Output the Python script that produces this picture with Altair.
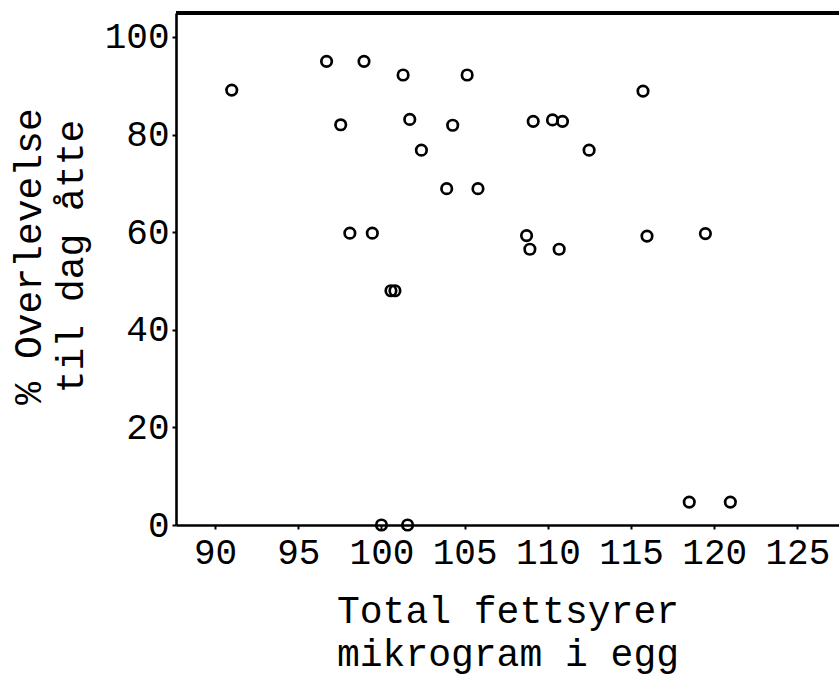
import altair as alt
import pandas as pd

# Total fatty acids per egg (micrograms) and survival to day eight (%)
fettsyrer = [91.0, 96.7, 97.55, 98.1, 98.95, 99.45, 100.57, 100.81, 100.0,
             101.3, 101.57, 101.7, 102.4, 103.92, 104.28, 105.15, 105.8,
             108.72, 108.92, 109.12, 110.28, 110.68, 110.88, 112.48,
             115.72, 115.96, 118.5, 119.47, 120.97]
overlevelse = [89.1, 95.0, 82.0, 59.8, 95.0, 59.8, 48.0, 48.0, 0.0,
               92.2, 0.0, 83.1, 76.8, 68.9, 81.9, 92.2, 68.9,
               59.3, 56.5, 82.7, 83.0, 56.5, 82.7, 76.8,
               88.9, 59.2, 4.7, 59.7, 4.7]

x_ticks = [90, 95, 100, 105, 110, 115, 120, 125]
y_ticks = [0, 20, 40, 60, 80, 100]

df = pd.DataFrame({"fett": fettsyrer, "overlevelse": overlevelse})

FONT = "Liberation Mono"
W, H = 663, 512

points = alt.Chart(df).mark_point(
    shape="circle", filled=False, color="black", size=110, strokeWidth=2.7, opacity=1
).encode(
    x=alt.X(
        "fett:Q",
        scale=alt.Scale(domain=[87.65, 127.5], nice=False, zero=False),
        axis=alt.Axis(
            values=x_ticks,
            title=["Total fettsyrer", "mikrogram i egg"],
            titleFontSize=38,
            titlePadding=22,
            titleLineHeight=43,
            labelFontSize=36,
            labelPadding=6,
        ),
    ),
    y=alt.Y(
        "overlevelse:Q",
        scale=alt.Scale(domain=[0, 104.9], nice=False),
        axis=alt.Axis(
            values=y_ticks,
            title=["% Overlevelse", "til dag åtte"],
            titleFontSize=38,
            titlePadding=14,
            titleLineHeight=42,
            titleY=243,
            labelFontSize=36,
            labelPadding=3,
        ),
    ),
)

# Top edge of the frame
top_rule = alt.Chart(df).mark_rule(color="black", strokeWidth=3).encode(
    x=alt.value(0), x2=alt.value(W), y=alt.value(0)
)

chart = (
    alt.layer(points, top_rule)
    .properties(
        width=W,
        height=H,
        autosize=alt.AutoSizeParams(type="none"),
        padding={"left": 176, "top": 13, "right": 0, "bottom": 155},
        background="white",
    )
    .configure_view(stroke=None)
    .configure_axis(
        grid=False,
        domainColor="black",
        domainWidth=2.6,
        tickColor="black",
        tickWidth=2,
        tickSize=4,
        labelFont=FONT,
        titleFont=FONT,
        labelColor="black",
        titleColor="black",
        labelFontWeight="normal",
        titleFontWeight="normal",
    )
)

chart.save("out.html", embed_options={"renderer": "svg", "actions": False})
